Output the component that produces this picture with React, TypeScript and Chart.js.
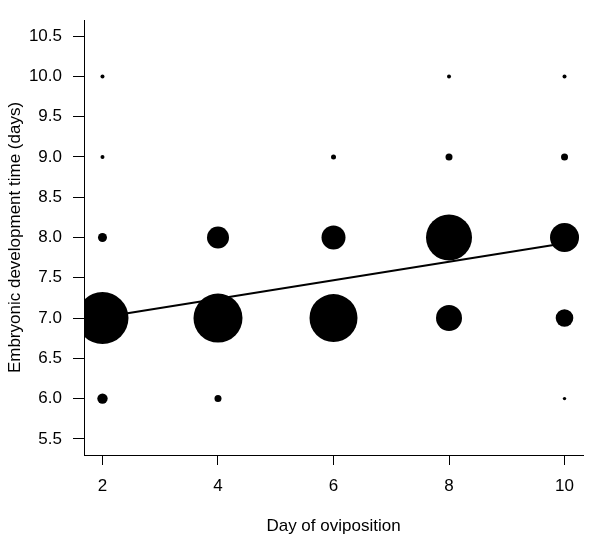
import React, { useEffect, useRef } from "react";
import { Chart, registerables } from "chart.js";

Chart.register(...registerables);

const xTickValues = [2, 4, 6, 8, 10];
const yTickValues = [5.5, 6.0, 6.5, 7.0, 7.5, 8.0, 8.5, 9.0, 9.5, 10.0, 10.5];

const bubbleDay = [2, 2, 2, 2, 2, 4, 4, 4, 6, 6, 6, 8, 8, 8, 8, 10, 10, 10, 10, 10];
const bubbleTime = [10, 9, 8, 7, 6, 8, 7, 6, 9, 8, 7, 10, 9, 8, 7, 10, 9, 8, 7, 6];
const bubbleRadius = [2, 2, 4.5, 26, 5.2, 11, 24.5, 3.5, 2.5, 12, 24, 2, 3.5, 23, 13, 2, 3.5, 14.5, 8.8, 1.7];

const fitDay = [2, 10];
const fitTime = [7.01, 7.93];

const FONT = { family: "'Liberation Sans', Arial, Helvetica, sans-serif", size: 17 };

export default function App() {
  const ref = useRef<HTMLCanvasElement | null>(null);

  useEffect(() => {
    document.body.style.margin = "0";
    const canvas = ref.current;
    if (!canvas) return;
    const chart = new Chart(canvas, {
      type: "bubble",
      data: {
        datasets: [
          {
            type: "bubble",
            data: bubbleDay.map((d, i) => ({ x: d, y: bubbleTime[i], r: bubbleRadius[i] })),
            backgroundColor: "#000",
            borderWidth: 0,
            hoverRadius: 0,
            clip: { left: 0, top: 0, right: 0, bottom: 0 },
          } as any,
          {
            type: "line",
            data: fitDay.map((d, i) => ({ x: d, y: fitTime[i] })),
            borderColor: "#000",
            borderWidth: 2,
            pointRadius: 0,
            fill: false,
          } as any,
        ],
      },
      options: {
        responsive: false,
        animation: false,
        devicePixelRatio: 1,
        layout: { autoPadding: false, padding: { top: 20, right: 17, left: 0, bottom: 0 } },
        plugins: { legend: { display: false }, tooltip: { enabled: false } },
        scales: {
          x: {
            type: "linear",
            min: 1.68,
            max: 10.32,
            afterBuildTicks: (s: any) => {
              s.ticks = xTickValues.map((v) => ({ value: v }));
            },
            afterFit: (s: any) => {
              s.height = 92;
              s.paddingLeft = 0;
              s.paddingRight = 0;
            },
            grid: {
              drawOnChartArea: false,
              drawTicks: true,
              tickLength: 10,
              tickColor: "#000",
              tickWidth: 1,
            },
            border: { display: true, color: "#000", width: 1, z: 1 },
            ticks: {
              color: "#000",
              font: FONT,
              padding: 11,
              maxRotation: 0,
              autoSkip: false,
              callback: (v: any) => String(v),
            },
            title: {
              display: true,
              text: "Day of oviposition",
              color: "#000",
              font: FONT,
              padding: { top: 0, bottom: 10 },
            },
          },
          y: {
            type: "linear",
            min: 5.3,
            max: 10.7,
            afterBuildTicks: (s: any) => {
              s.ticks = yTickValues.map((v) => ({ value: v }));
            },
            afterFit: (s: any) => {
              s.width = 84;
              s.paddingTop = 0;
              s.paddingBottom = 0;
            },
            grid: {
              drawOnChartArea: false,
              drawTicks: true,
              tickLength: 11,
              tickColor: "#000",
              tickWidth: 1,
            },
            border: { display: true, color: "#000", width: 1 },
            ticks: {
              color: "#000",
              font: FONT,
              padding: 11,
              autoSkip: false,
              callback: (v: any) => Number(v).toFixed(1),
            },
            title: {
              display: true,
              text: "Embryonic development time (days)",
              color: "#000",
              font: FONT,
              padding: { top: 5, bottom: 0 },
            },
          },
        },
      },
    });
    return () => chart.destroy();
  }, []);

  return (
    <div style={{ width: 600, height: 547 }}>
      <canvas ref={ref} width={600} height={547} />
    </div>
  );
}
